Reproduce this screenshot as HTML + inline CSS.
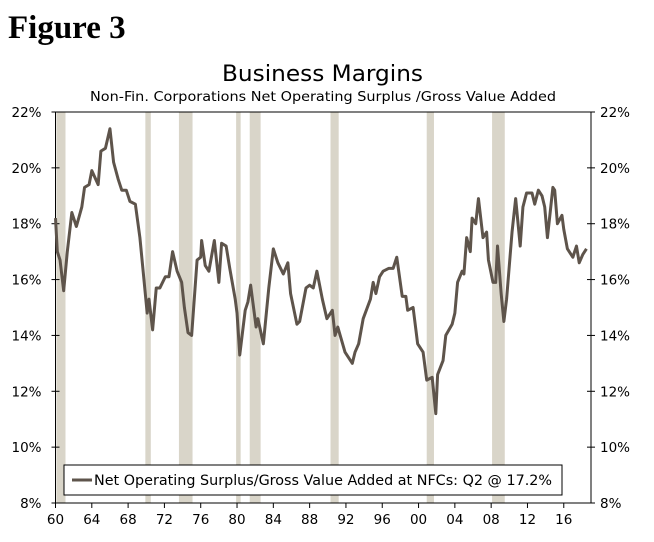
<!DOCTYPE html>
<html><head><meta charset="utf-8"><style>
body{margin:0;background:#fff;width:654px;height:537px;overflow:hidden}
svg text{font-family:"DejaVu Sans","Liberation Sans",sans-serif}
</style></head><body>
<svg id="chart" width="654" height="537" viewBox="0 0 654 537" xmlns="http://www.w3.org/2000/svg">
<text x="8" y="38" style="font-family:'Liberation Serif',serif;font-weight:bold;font-size:33px">Figure 3</text>
<text x="222" y="81" font-size="22" textLength="201" lengthAdjust="spacingAndGlyphs">Business Margins</text>
<text x="90" y="101" font-size="13.5" textLength="466" lengthAdjust="spacingAndGlyphs">Non-Fin. Corporations Net Operating Surplus /Gross Value Added</text>
<g id="rec"></g><g id="axes"></g><g id="series"></g>
<g>
<rect x="64" y="465" width="498" height="30" fill="#fff" stroke="#000" stroke-width="1"/>
<line x1="72" y1="480" x2="92" y2="480" stroke="#5e544b" stroke-width="3"/>
<text x="94" y="485" font-size="14" textLength="458" lengthAdjust="spacingAndGlyphs">Net Operating Surplus/Gross Value Added at NFCs: Q2 @ 17.2%</text>
</g>
</svg>
<script>
const years=[1960.0,1960.2,1960.5,1960.9,1961.3,1961.8,1962.3,1962.9,1963.2,1963.7,1964.0,1964.7,1965.0,1965.5,1966.0,1966.4,1966.9,1967.3,1967.8,1968.2,1968.8,1969.3,1970.1,1970.3,1970.7,1971.1,1971.5,1972.1,1972.5,1972.9,1973.4,1973.9,1974.2,1974.6,1975.0,1975.6,1976.0,1976.1,1976.5,1976.9,1977.5,1978.0,1978.3,1978.8,1979.2,1979.8,1980.0,1980.3,1980.9,1981.2,1981.5,1982.1,1982.3,1982.9,1983.5,1984.0,1984.5,1985.1,1985.6,1985.9,1986.6,1986.9,1987.6,1988.0,1988.4,1988.8,1989.4,1989.9,1990.5,1990.8,1991.1,1991.9,1992.7,1993.0,1993.4,1993.9,1994.7,1995.0,1995.3,1995.7,1996.1,1996.7,1997.2,1997.6,1998.2,1998.6,1998.8,1999.4,1999.9,2000.5,2000.9,2001.5,2001.9,2002.1,2002.7,2003.0,2003.7,2004.0,2004.3,2004.8,2005.0,2005.3,2005.7,2005.9,2006.3,2006.6,2007.1,2007.5,2007.7,2008.2,2008.5,2008.7,2009.1,2009.4,2009.7,2010.3,2010.7,2011.2,2011.5,2011.9,2012.5,2012.8,2013.2,2013.6,2013.9,2014.2,2014.8,2015.0,2015.3,2015.8,2016.0,2016.4,2017.0,2017.4,2017.7,2018.1,2018.5];
const margins=[18.2,17.0,16.7,15.6,17.0,18.4,17.9,18.6,19.3,19.4,19.9,19.4,20.6,20.7,21.4,20.2,19.6,19.2,19.2,18.8,18.7,17.5,14.8,15.3,14.2,15.7,15.7,16.1,16.1,17.0,16.3,15.9,15.0,14.1,14.0,16.7,16.8,17.4,16.5,16.3,17.4,15.9,17.3,17.2,16.4,15.3,14.8,13.3,14.9,15.2,15.8,14.3,14.6,13.7,15.7,17.1,16.6,16.2,16.6,15.5,14.4,14.5,15.7,15.8,15.7,16.3,15.3,14.6,14.9,14.0,14.3,13.4,13.0,13.4,13.7,14.6,15.3,15.9,15.5,16.1,16.3,16.4,16.4,16.8,15.4,15.4,14.9,15.0,13.7,13.4,12.4,12.5,11.2,12.6,13.1,14.0,14.4,14.8,15.9,16.3,16.2,17.5,17.0,18.2,18.0,18.9,17.5,17.7,16.7,15.9,15.9,17.2,15.5,14.5,15.3,17.7,18.9,17.2,18.6,19.1,19.1,18.7,19.2,19.0,18.6,17.5,19.3,19.2,18.0,18.3,17.8,17.1,16.8,17.2,16.6,16.9,17.1];
const recStart=[1960.1,1969.9,1973.6,1979.9,1981.4,1990.3,2000.9,2008.1];
const recEnd=[1961.1,1970.5,1975.1,1980.4,1982.6,1991.2,2001.7,2009.5];
const yTicks=[8,10,12,14,16,18,20,22];
const xTicks=[1960,1964,1968,1972,1976,1980,1984,1988,1992,1996,2000,2004,2008,2012,2016];
const xTickLabels=["60","64","68","72","76","80","84","88","92","96","00","04","08","12","16"];
const L=55.5,R=591,T=112,B=503;
const X=y=>L+(y-1960)*(R-L)/59;
const Y=v=>B-(v-8)*(B-T)/14;
const NS="http://www.w3.org/2000/svg";
function mk(tag,attrs,parent){const e=document.createElementNS(NS,tag);for(const k in attrs)e.setAttribute(k,attrs[k]);document.getElementById(parent).appendChild(e);return e;}
recStart.forEach((s,i)=>{const r=mk('rect',{x:X(s),y:T,width:X(recEnd[i])-X(s),height:B-T,fill:'#d9d5c9'},'rec');

});
const fr=mk('rect',{x:L,y:T,width:R-L,height:B-T,fill:'none',stroke:'#000','stroke-width':1},'axes');


yTicks.forEach(v=>{const y=Y(v);
mk('line',{x1:L-4,x2:L+4,y1:y,y2:y,stroke:'#000'},'axes');
mk('line',{x1:R-4,x2:R+4,y1:y,y2:y,stroke:'#000'},'axes');
const t1=mk('text',{x:L-14,y:y+5,'text-anchor':'end','font-size':13.5},'axes');t1.textContent=v+'%';


const t2=mk('text',{x:R+9,y:y+5,'font-size':13.5},'axes');t2.textContent=v+'%';

});
xTicks.forEach((yr,i)=>{const x=X(yr);
mk('line',{x1:x,x2:x,y1:B,y2:B+5,stroke:'#000'},'axes');
const t=mk('text',{x:x,y:B+21,'text-anchor':'middle','font-size':13.5},'axes');t.textContent=xTickLabels[i];

});
const p=mk('polyline',{points:years.map((y,i)=>X(y)+','+Y(margins[i])).join(' '),fill:'none',stroke:'#5e544b','stroke-width':3,'stroke-linejoin':'round'},'series');


</script>
</body></html>
